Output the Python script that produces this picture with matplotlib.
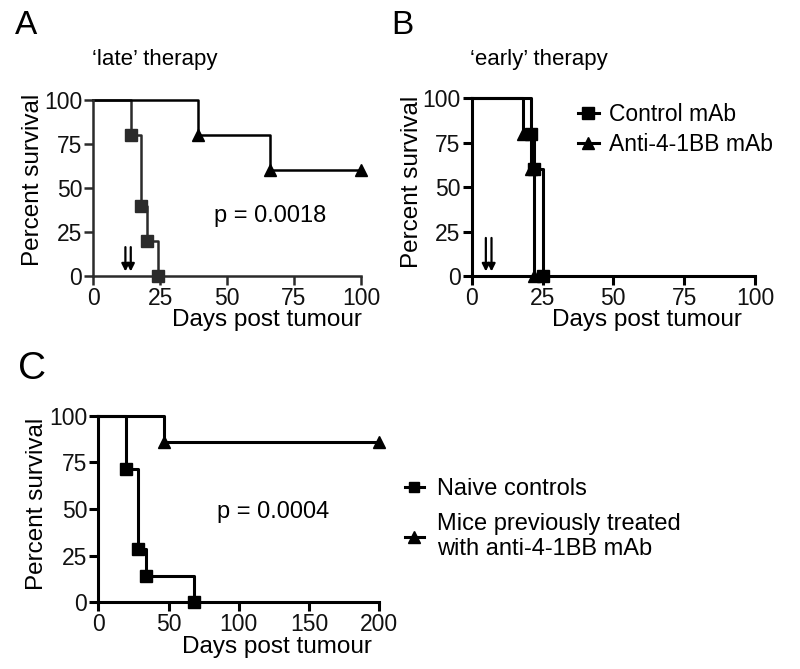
import numpy as np
import matplotlib
matplotlib.use('Agg')
import matplotlib.pyplot as plt
from matplotlib.lines import Line2D

plt.rcParams['font.family'] = ['Liberation Sans', 'DejaVu Sans']

# panel A, 'late' therapy
a_ctrl_days = [0, 14, 18, 20, 24]
a_ctrl_surv = [100, 80, 40, 20, 0]
a_anti_days = [0, 39, 66, 100]
a_anti_surv = [100, 80, 60, 60]
a_arrows = [12, 14]

# panel B, 'early' therapy
b_ctrl_days = [0, 21, 22, 25]
b_ctrl_surv = [100, 80, 60, 0]
b_anti_days = [0, 18, 21, 22]
b_anti_surv = [100, 80, 60, 0]
b_arrows = [5, 7]

# panel C, rechallenge
c_naive_days = [0, 19.5, 28, 34, 68]
c_naive_surv = [100, 71.4, 28.6, 14.3, 0]
c_treat_days = [0, 47, 200]
c_treat_surv = [100, 85.7, 85.7]

ticks_ab = [0, 25, 50, 75, 100]
ticks_c = [0, 50, 100, 150, 200]
yticks = [0, 25, 50, 75, 100]

fs_tick = 16.5
fs_lab = 17.5


def style(ax, xmax, xticks, col, lw):
    ax.set_xlim(0, xmax)
    ax.set_ylim(0, 100)
    ax.set_xticks(xticks)
    ax.set_yticks(yticks)
    for s in ['top', 'right']:
        ax.spines[s].set_visible(False)
    for s in ['left', 'bottom']:
        ax.spines[s].set_linewidth(lw)
        ax.spines[s].set_color(col)
    ax.tick_params(length=6.5, width=lw, color=col, labelsize=fs_tick, pad=1.5, labelcolor='#111111')


def km(ax, days, surv, marker, col, lw, ms):
    ax.step(days, surv, where='post', color=col, lw=lw, clip_on=False)
    ax.plot(days[1:], surv[1:], ls='none', marker=marker, ms=ms, color=col, clip_on=False)


def arrows(ax, xs, top):
    for x in xs:
        ax.annotate('', xy=(x, 1), xytext=(x, top),
                    arrowprops=dict(arrowstyle='-|>', lw=1.6, color='k', mutation_scale=11))


fig = plt.figure(figsize=(8, 6.69), dpi=100)

# A
colA = '#2b2b2b'
axA = fig.add_axes([0.1166, 0.5874, 0.3346, 0.2631])
style(axA, 100, ticks_ab, colA, 1.8)
km(axA, a_ctrl_days, a_ctrl_surv, 's', colA, 1.8, 9)
km(axA, a_anti_days, a_anti_surv, '^', 'k', 1.8, 9)
arrows(axA, a_arrows, 18)
axA.text(66, 34, 'p = 0.0018', fontsize=17, ha='center', va='center')
axA.set_ylabel('Percent survival', fontsize=fs_lab)
axA.set_xlabel('Days post tumour', fontsize=fs_lab)
axA.yaxis.set_label_coords(-0.185, 0.545)
axA.xaxis.set_label_coords(0.65, -0.19)
fig.text(26 / 800, 1 - 25 / 669, 'A', fontsize=24, ha='center', va='center')
fig.text(92 / 800, 1 - 60 / 669, '\u2018late\u2019 therapy', fontsize=16, va='center')

# B
axB = fig.add_axes([0.5896, 0.5874, 0.3541, 0.2656])
style(axB, 100, ticks_ab, 'k', 2.2)
km(axB, b_ctrl_days, b_ctrl_surv, 's', 'k', 2.2, 9)
km(axB, b_anti_days, b_anti_surv, '^', 'k', 2.2, 9)
arrows(axB, b_arrows, 23)
axB.set_ylabel('Percent survival', fontsize=fs_lab)
axB.set_xlabel('Days post tumour', fontsize=fs_lab)
axB.yaxis.set_label_coords(-0.172, 0.53)
axB.xaxis.set_label_coords(0.62, -0.185)
handlesB = [Line2D([], [], color='k', lw=2.2, marker='s', ms=9),
            Line2D([], [], color='k', lw=2.2, marker='^', ms=9)]
fig.legend(handlesB, ['Control mAb', 'Anti-4-1BB mAb'], loc='upper left',
           bbox_to_anchor=(578 / 800, 1 - 103 / 669), frameon=False, fontsize=16.5,
           handlelength=0.9, handletextpad=0.45, labelspacing=0.3,
           borderpad=0, borderaxespad=0)
fig.text(402 / 800, 1 - 26 / 669, 'B', fontsize=24, ha='center', va='center')
fig.text(470 / 800, 1 - 60 / 669, '\u2018early\u2019 therapy', fontsize=16, va='center')

# C
axC = fig.add_axes([0.1229, 0.0997, 0.351, 0.2789])
style(axC, 200, ticks_c, 'k', 2.2)
km(axC, c_naive_days, c_naive_surv, 's', 'k', 2.2, 8)
km(axC, c_treat_days, c_treat_surv, '^', 'k', 2.2, 9)
axC.text(124.6, 48.5, 'p = 0.0004', fontsize=17, ha='center', va='center')
axC.set_ylabel('Percent survival', fontsize=fs_lab)
axC.set_xlabel('Days post tumour', fontsize=fs_lab)
axC.yaxis.set_label_coords(-0.179, 0.53)
axC.xaxis.set_label_coords(0.635, -0.18)
handlesC = [Line2D([], [], color='k', lw=2.2, marker='s', ms=7),
            Line2D([], [], color='k', lw=2.2, marker='^', ms=8)]
fig.legend(handlesC, ['Naive controls', 'Mice previously treated\nwith anti-4-1BB mAb'],
           loc='upper left', bbox_to_anchor=(405 / 800, 1 - 478 / 669), frameon=False,
           fontsize=17, handlelength=0.8, handletextpad=0.55, labelspacing=0.55,
           borderpad=0, borderaxespad=0)
fig.text(32 / 800, 1 - 369 / 669, 'C', fontsize=28, ha='center', va='center')

fig.savefig('out.png', dpi=100)
